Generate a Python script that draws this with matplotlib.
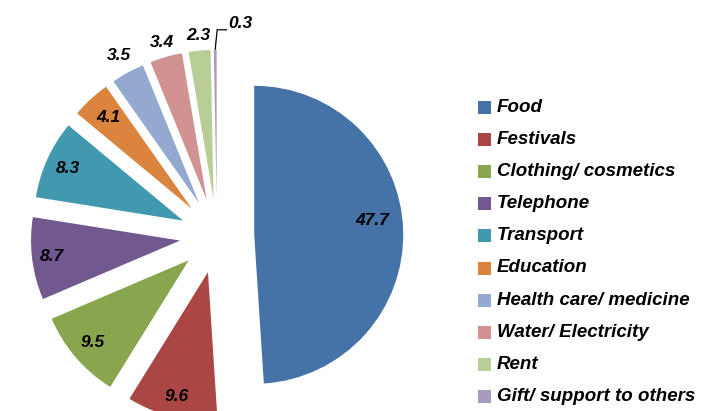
import numpy as np
import matplotlib.pyplot as plt
from matplotlib.patches import Rectangle

plt.rcParams['font.family'] = ['Liberation Sans', 'DejaVu Sans']

categories = ["Food", "Festivals", "Clothing/ cosmetics", "Telephone", "Transport",
              "Education", "Health care/ medicine", "Water/ Electricity", "Rent",
              "Gift/ support to others"]
values = [47.7, 9.6, 9.5, 8.7, 8.3, 4.1, 3.5, 3.4, 2.3, 0.3]
colors = ["#4572A7", "#AA4643", "#89A54E", "#71588F", "#4198AF",
          "#DB843D", "#93A9CF", "#D19392", "#B9CD96", "#A99BBD"]

W, H = 706, 411
R = 149.0          # pie radius in pixels
cx, cy = 217, 236  # pie centre in pixels (from top)

fig = plt.figure(figsize=(W / 100, H / 100), dpi=100)
ax = fig.add_axes([0, 0, 1, 1])

wedges, _ = ax.pie(values, colors=colors, startangle=90, counterclock=False,
                   explode=[0.25] * len(values), radius=1,
                   wedgeprops=dict(linewidth=0))
ax.set_xlim(-cx / R, (W - cx) / R)
ax.set_ylim(-(H - cy) / R, cy / R)
ax.set_aspect('equal')
ax.axis('off')

# label distance (in radii) from each wedge's own apex, and angle nudge
label_r = [0.80, 0.86, 0.85, 0.87, 0.85, 0.83, 1.13, 1.10, 1.10, None]
label_nudge = [5, 0, 0, 0, 0, 0, 0, 0, 0, 0]
for w, v, d, nd in zip(wedges, values, label_r, label_nudge):
    mid = np.deg2rad((w.theta1 + w.theta2) / 2 + nd)
    x0, y0 = w.center
    if d is None:
        # tiny slice: leader line to the label
        tx, ty = x0 + np.cos(mid), y0 + np.sin(mid)
        ax.plot([tx, tx + 0.013, tx + 0.08], [ty, ty + 0.134, ty + 0.134],
                color='black', lw=0.9, solid_capstyle='butt')
        ax.text(tx + 0.085, ty + 0.134 + 0.04, f"{v}", ha='left', va='center',
                fontsize=12.5, fontweight='bold', fontstyle='italic')
    else:
        ax.text(x0 + d * np.cos(mid), y0 + d * np.sin(mid), f"{v}",
                ha='center', va='center', fontsize=12.5, fontweight='bold',
                fontstyle='italic')

# legend
for i, (name, c) in enumerate(zip(categories, colors)):
    yc = 107 + 32.2 * i
    fig.patches.append(Rectangle((478 / W, 1 - (yc + 6.5) / H), 13 / W, 13 / H,
                                 transform=fig.transFigure, color=c, lw=0))
    fig.text(497 / W, 1 - yc / H, name, ha='left', va='center', fontsize=13.5,
             fontweight='bold', fontstyle='italic')

fig.savefig("out.png", dpi=100)
